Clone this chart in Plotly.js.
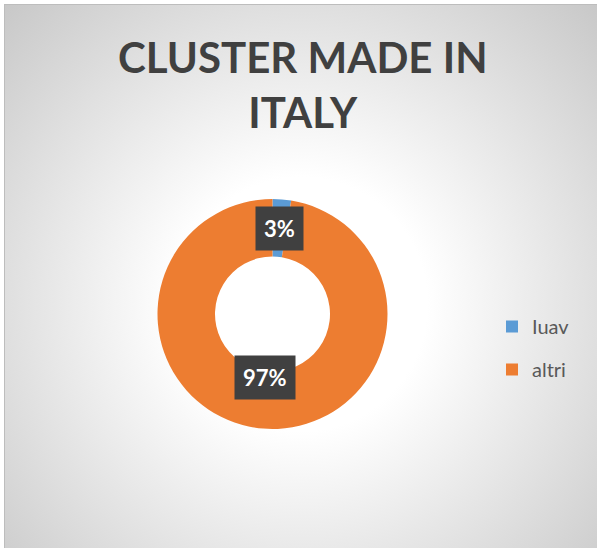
<!DOCTYPE html>
<html>
<head>
<meta charset="utf-8">
<script src="https://cdn.plot.ly/plotly-3.0.1.min.js"></script>
<style>
  html, body { margin: 0; padding: 0; background: #ffffff; }
  #wrap { position: relative; width: 597px; height: 548px; overflow: hidden; }
  #bg { position: absolute; left: 4px; top: 4px; width: 593px; height: 544px;
        border-left: 1px solid #bdbdbd; border-top: 1px solid #bdbdbd;
        background: radial-gradient(ellipse farthest-corner at 50% 55%, #ffffff 0%, #ffffff 30%, #c8c8c8 100%); }
  #chart { position: absolute; left: 0; top: 0; width: 597px; height: 548px; }
</style>
</head>
<body>
<div id="wrap">
  <div id="bg"></div>
  <div id="chart"></div>
</div>
<script>
// ---- data ----
const categories = ['Iuav', 'altri'];
const values = [2.6, 97.4];
const chartTitle = 'CLUSTER MADE IN<br>ITALY';

// ---- styles ----
const colors = ['#5B9BD5', '#ED7D31'];
const W = 597, H = 548;
const cx = 272.5, cy = 314, R = 115, holeFrac = 0.5;

const pie = {
  type: 'pie',
  labels: categories,
  values: values,
  hole: holeFrac,
  sort: false,
  direction: 'clockwise',
  rotation: 0,
  textinfo: 'none',
  hoverinfo: 'label+percent',
  showlegend: false,
  marker: { colors: colors, line: { width: 0 } },
  domain: { x: [(cx - R) / W, (cx + R) / W], y: [1 - (cy + R) / H, 1 - (cy - R) / H] }
};

// legend entries (one per category)
const legendTraces = categories.map((c, i) => ({
  type: 'scatter', x: [null], y: [null], mode: 'markers', name: c,
  legendgroup: 'g' + i, hoverinfo: 'skip',
  marker: { symbol: 'square', size: 12, color: colors[i] }
}));

// data labels at mid-ring
const total = values.reduce((a, b) => a + b, 0);
const rm = R * (1 + holeFrac) / 2;
let cum = 0;
const annotations = [];
values.forEach((v, i) => {
  const f = v / total;
  const th = 2 * Math.PI * (cum + f / 2);
  cum += f;
  const px = cx + rm * Math.sin(th), py = cy - rm * Math.cos(th);
  annotations.push({
    xref: 'paper', yref: 'paper', x: px / W, y: 1 - py / H,
    text: Math.round(f * 100) + '%', showarrow: false, bgcolor: '#404040', borderpad: 8,
    font: { family: 'Lato', size: 22, color: '#ffffff', weight: 'bold' }
  });
});

// chart title
annotations.push({
  xref: 'paper', yref: 'paper', x: 302.5 / W, xanchor: 'center', y: 1 - 30 / H, yanchor: 'top',
  text: chartTitle, showarrow: false,
  font: { family: 'Lato', size: 42, color: '#404040', weight: 'bold' }
});

const layout = {
  width: W, height: H,
  margin: { l: 0, r: 0, t: 0, b: 0 },
  paper_bgcolor: 'rgba(0,0,0,0)',
  plot_bgcolor: 'rgba(0,0,0,0)',
  xaxis: { visible: false, range: [0, 1] },
  yaxis: { visible: false, range: [0, 1] },
  showlegend: true,
  legend: {
    x: 492 / W, xanchor: 'left', y: 1 - 348 / H, yanchor: 'middle',
    traceorder: 'grouped', tracegroupgap: 14,
    bgcolor: 'rgba(0,0,0,0)',
    font: { family: 'Lato', size: 20, color: '#595959' }
  },
  annotations: annotations
};

Plotly.newPlot('chart', [pie].concat(legendTraces), layout, { displayModeBar: false, staticPlot: true });
</script>
</body>
</html>
